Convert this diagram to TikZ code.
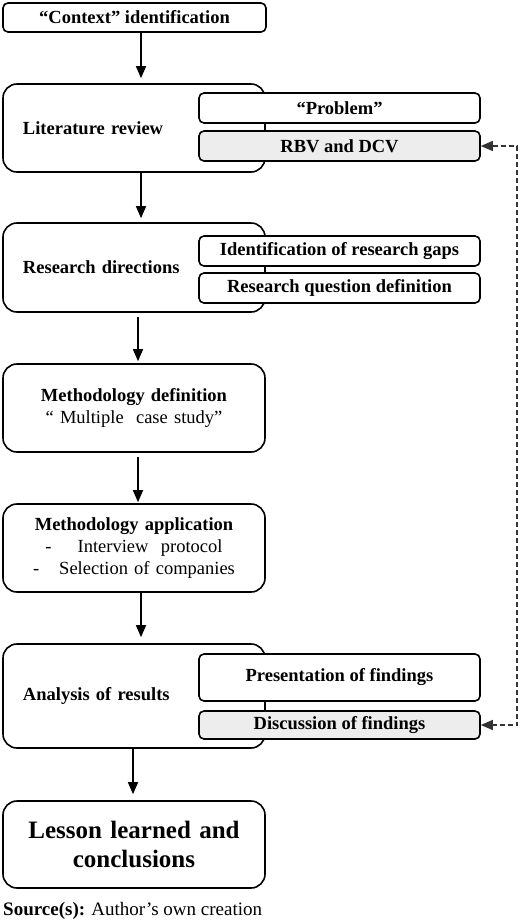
\documentclass[tikz,border=0pt]{standalone}
\usepackage{fontspec}
\setmainfont{Liberation Serif}
\usetikzlibrary{arrows.meta}
\definecolor{boxgray}{gray}{0.93}
\begin{document}
\begin{tikzpicture}[x=1pt,y=-1pt,
  basefont/.style={font=\fontsize{18.5pt}{22pt}\selectfont},
  bigbox/.style={draw, line width=1.6pt, rounded corners=14pt, fill=white,
    minimum width=262pt, inner xsep=20pt, inner ysep=0pt, text width=222pt,
    align=left, font=\fontsize{18.5pt}{22pt}\selectfont\bfseries},
  midbox/.style={bigbox, inner xsep=4pt, text width=254pt, align=center,
    font=\fontsize{18.5pt}{22pt}\selectfont},
  subbox/.style={draw, line width=1.6pt, rounded corners=5pt, fill=white,
    minimum width=281pt, minimum height=30pt, inner sep=0pt, align=center,
    font=\fontsize{18.5pt}{22pt}\selectfont\bfseries},
  graybox/.style={subbox, fill=boxgray},
  arr/.style={line width=1.3pt, -{Triangle[width=10pt,length=12pt]}},
  dasharr/.style={line width=1.2pt, black!80, dash pattern=on 5pt off 3pt,
    {Triangle[width=10pt,length=12pt]}-{Triangle[width=10pt,length=12pt]}}
]
\useasboundingbox (0,0) rectangle (520,922);

\node[subbox, minimum width=263pt, minimum height=29pt] (ctx) at (134.5,17.5) {“Context” identification};

\node[bigbox, minimum height=88pt] (lit) at (134,128) {Literature review};
\node[subbox] (prob) at (339.5,108) {“Problem”};
\node[graybox] (rbv) at (339.5,146) {RBV and DCV};

\node[bigbox, minimum height=89pt] (res) at (134,267.5) {Research directions};
\node[subbox] (gaps) at (339.5,251) {Identification of research gaps};
\node[subbox] (rq) at (339.5,288) {Research question definition};

\node[midbox, minimum height=88pt] (mdef) at (134,408)
  {\textbf{Methodology definition}\\“ Multiple\ \ case study”};

\node[midbox, minimum height=88pt] (mapp) at (134,548)
  {\textbf{Methodology application}\\-\hspace{26pt}Interview\ \ protocol\\-\hspace{20pt}Selection of companies};

\node[bigbox, minimum height=104pt] (ana) at (134,696) {Analysis of results};
\node[subbox, minimum height=47pt] (pres) at (339.5,677.5) {Presentation of findings};
\node[graybox, minimum height=28pt] (disc) at (339.5,725) {Discussion of findings};

\node[midbox, minimum height=87pt, font=\fontsize{25pt}{29pt}\selectfont\bfseries] (less) at (134,844.5)
  {Lesson learned and\\conclusions};

\node[anchor=west, inner sep=0pt, font=\fontsize{19pt}{22pt}\selectfont] (src) at (3,911)
  {\textbf{Source(s):} Author’s own creation};

\draw[arr, shorten >=5pt] ([xshift=6.5pt]ctx.south) -- ([xshift=7pt]lit.north);
\draw[arr, shorten >=4pt] ([xshift=7pt]lit.south) -- ([xshift=7pt]res.north);
\draw[arr, shorten <=4pt, shorten >=2pt] ([xshift=4pt]res.south) -- ([xshift=4pt]mdef.north);
\draw[arr, shorten <=4pt, shorten >=1pt] ([xshift=4pt]mdef.south) -- ([xshift=4pt]mapp.north);
\draw[arr, shorten >=6pt] ([xshift=7pt]mapp.south) -- ([xshift=7pt]ana.north);
\draw[arr, shorten >=6pt] ([xshift=-1pt]ana.south) -- ([xshift=-1pt]less.north);

\coordinate (dr) at (517,146);
\draw[dasharr] (rbv.east) -- (dr) |- (disc.east);
\end{tikzpicture}
\end{document}
